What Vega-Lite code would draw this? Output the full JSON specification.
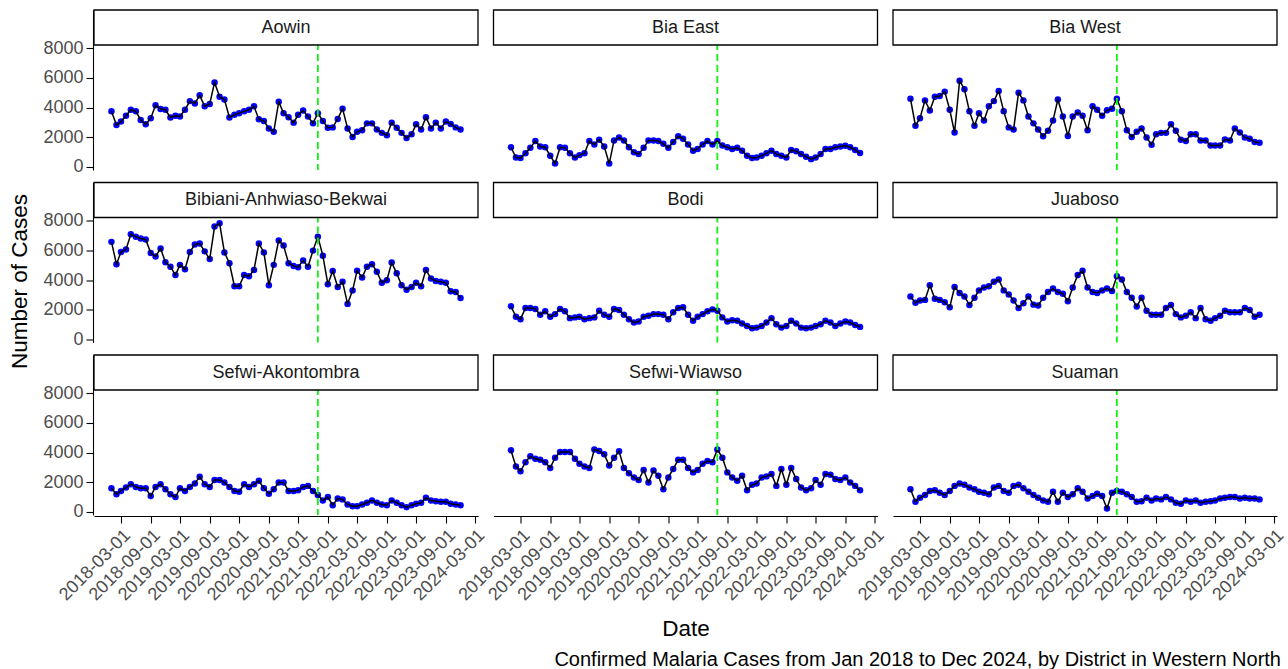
{
"$schema": "https://vega.github.io/schema/vega-lite/v6.json",
"background": "white",
"padding": {"left": 8, "top": 8, "right": 5, "bottom": 2},
"config": {
  "view": {"stroke": null},
  "font": "Liberation Sans",
  "axis": {"domainColor": "black", "tickColor": "black", "domainWidth": 1.1, "tickWidth": 1.1, "labelColor": "#4d4d4d", "labelFontSize": 18, "tickSize": 7, "labelPadding": 3, "grid": false, "labelFont": "Liberation Sans"},
  "axisX": {"labelAngle": -45, "labelAlign": "right", "labelBaseline": "top", "labelOverlap": false, "labelFlush": false, "labelExpr": "utcFormat(datum.value, '%Y-%m-%d')"},
  "axisY": {"labelOverlap": false}
},
"title": {"text": "Confirmed Malaria Cases from Jan 2018 to Dec 2024, by District in Western North", "orient": "bottom", "anchor": "end", "fontSize": 20, "fontWeight": "normal", "color": "black", "font": "Liberation Sans", "offset": 9, "dx": -6},
"spacing": 10,
"hconcat": [
{"width": 24, "height": 543,
 "data": {"values": [{"t": "Number of Cases"}]},
 "mark": {"type": "text", "angle": 270, "fontSize": 22.5, "color": "black", "font": "Liberation Sans"},
 "encoding": {"text": {"field": "t"}}},
{
"data": {"values": [
{"d":"Aowin","m":"2018-01-01","c":3750},{"d":"Aowin","m":"2018-02-01","c":2830},{"d":"Aowin","m":"2018-03-01","c":3060},{"d":"Aowin","m":"2018-04-01","c":3450},{"d":"Aowin","m":"2018-05-01","c":3860},{"d":"Aowin","m":"2018-06-01","c":3750},{"d":"Aowin","m":"2018-07-01","c":3170},{"d":"Aowin","m":"2018-08-01","c":2875},{"d":"Aowin","m":"2018-09-01","c":3290},{"d":"Aowin","m":"2018-10-01","c":4160},{"d":"Aowin","m":"2018-11-01","c":3910},{"d":"Aowin","m":"2018-12-01","c":3860},
{"d":"Aowin","m":"2019-01-01","c":3335},{"d":"Aowin","m":"2019-02-01","c":3450},{"d":"Aowin","m":"2019-03-01","c":3400},{"d":"Aowin","m":"2019-04-01","c":3860},{"d":"Aowin","m":"2019-05-01","c":4440},{"d":"Aowin","m":"2019-06-01","c":4280},{"d":"Aowin","m":"2019-07-01","c":4830},{"d":"Aowin","m":"2019-08-01","c":4090},{"d":"Aowin","m":"2019-09-01","c":4250},{"d":"Aowin","m":"2019-10-01","c":5700},{"d":"Aowin","m":"2019-11-01","c":4740},{"d":"Aowin","m":"2019-12-01","c":4550},
{"d":"Aowin","m":"2020-01-01","c":3335},{"d":"Aowin","m":"2020-02-01","c":3520},{"d":"Aowin","m":"2020-03-01","c":3630},{"d":"Aowin","m":"2020-04-01","c":3750},{"d":"Aowin","m":"2020-05-01","c":3860},{"d":"Aowin","m":"2020-06-01","c":4090},{"d":"Aowin","m":"2020-07-01","c":3220},{"d":"Aowin","m":"2020-08-01","c":3100},{"d":"Aowin","m":"2020-09-01","c":2600},{"d":"Aowin","m":"2020-10-01","c":2370},{"d":"Aowin","m":"2020-11-01","c":4390},{"d":"Aowin","m":"2020-12-01","c":3630},
{"d":"Aowin","m":"2021-01-01","c":3360},{"d":"Aowin","m":"2021-02-01","c":2990},{"d":"Aowin","m":"2021-03-01","c":3520},{"d":"Aowin","m":"2021-04-01","c":3800},{"d":"Aowin","m":"2021-05-01","c":3400},{"d":"Aowin","m":"2021-06-01","c":2940},{"d":"Aowin","m":"2021-07-01","c":3630},{"d":"Aowin","m":"2021-08-01","c":3100},{"d":"Aowin","m":"2021-09-01","c":2645},{"d":"Aowin","m":"2021-10-01","c":2670},{"d":"Aowin","m":"2021-11-01","c":3240},{"d":"Aowin","m":"2021-12-01","c":3930},
{"d":"Aowin","m":"2022-01-01","c":2600},{"d":"Aowin","m":"2022-02-01","c":2020},{"d":"Aowin","m":"2022-03-01","c":2370},{"d":"Aowin","m":"2022-04-01","c":2480},{"d":"Aowin","m":"2022-05-01","c":2940},{"d":"Aowin","m":"2022-06-01","c":2940},{"d":"Aowin","m":"2022-07-01","c":2530},{"d":"Aowin","m":"2022-08-01","c":2300},{"d":"Aowin","m":"2022-09-01","c":2140},{"d":"Aowin","m":"2022-10-01","c":2990},{"d":"Aowin","m":"2022-11-01","c":2645},{"d":"Aowin","m":"2022-12-01","c":2300},
{"d":"Aowin","m":"2023-01-01","c":1955},{"d":"Aowin","m":"2023-02-01","c":2210},{"d":"Aowin","m":"2023-03-01","c":2875},{"d":"Aowin","m":"2023-04-01","c":2530},{"d":"Aowin","m":"2023-05-01","c":3360},{"d":"Aowin","m":"2023-06-01","c":2600},{"d":"Aowin","m":"2023-07-01","c":2990},{"d":"Aowin","m":"2023-08-01","c":2600},{"d":"Aowin","m":"2023-09-01","c":3060},{"d":"Aowin","m":"2023-10-01","c":2900},{"d":"Aowin","m":"2023-11-01","c":2670},{"d":"Aowin","m":"2023-12-01","c":2530},
{"d":"Bia East","m":"2018-01-01","c":1330},{"d":"Bia East","m":"2018-02-01","c":640},{"d":"Bia East","m":"2018-03-01","c":600},{"d":"Bia East","m":"2018-04-01","c":920},{"d":"Bia East","m":"2018-05-01","c":1290},{"d":"Bia East","m":"2018-06-01","c":1750},{"d":"Bia East","m":"2018-07-01","c":1380},{"d":"Bia East","m":"2018-08-01","c":1330},{"d":"Bia East","m":"2018-09-01","c":760},{"d":"Bia East","m":"2018-10-01","c":230},{"d":"Bia East","m":"2018-11-01","c":1330},{"d":"Bia East","m":"2018-12-01","c":1290},
{"d":"Bia East","m":"2019-01-01","c":920},{"d":"Bia East","m":"2019-02-01","c":640},{"d":"Bia East","m":"2019-03-01","c":800},{"d":"Bia East","m":"2019-04-01","c":920},{"d":"Bia East","m":"2019-05-01","c":1750},{"d":"Bia East","m":"2019-06-01","c":1520},{"d":"Bia East","m":"2019-07-01","c":1840},{"d":"Bia East","m":"2019-08-01","c":1380},{"d":"Bia East","m":"2019-09-01","c":230},{"d":"Bia East","m":"2019-10-01","c":1790},{"d":"Bia East","m":"2019-11-01","c":1980},{"d":"Bia East","m":"2019-12-01","c":1790},
{"d":"Bia East","m":"2020-01-01","c":1330},{"d":"Bia East","m":"2020-02-01","c":990},{"d":"Bia East","m":"2020-03-01","c":870},{"d":"Bia East","m":"2020-04-01","c":1290},{"d":"Bia East","m":"2020-05-01","c":1790},{"d":"Bia East","m":"2020-06-01","c":1790},{"d":"Bia East","m":"2020-07-01","c":1750},{"d":"Bia East","m":"2020-08-01","c":1560},{"d":"Bia East","m":"2020-09-01","c":1290},{"d":"Bia East","m":"2020-10-01","c":1680},{"d":"Bia East","m":"2020-11-01","c":2070},{"d":"Bia East","m":"2020-12-01","c":1910},
{"d":"Bia East","m":"2021-01-01","c":1520},{"d":"Bia East","m":"2021-02-01","c":1100},{"d":"Bia East","m":"2021-03-01","c":1220},{"d":"Bia East","m":"2021-04-01","c":1520},{"d":"Bia East","m":"2021-05-01","c":1750},{"d":"Bia East","m":"2021-06-01","c":1520},{"d":"Bia East","m":"2021-07-01","c":1750},{"d":"Bia East","m":"2021-08-01","c":1450},{"d":"Bia East","m":"2021-09-01","c":1330},{"d":"Bia East","m":"2021-10-01","c":1220},{"d":"Bia East","m":"2021-11-01","c":1290},{"d":"Bia East","m":"2021-12-01","c":1100},
{"d":"Bia East","m":"2022-01-01","c":760},{"d":"Bia East","m":"2022-02-01","c":600},{"d":"Bia East","m":"2022-03-01","c":640},{"d":"Bia East","m":"2022-04-01","c":760},{"d":"Bia East","m":"2022-05-01","c":920},{"d":"Bia East","m":"2022-06-01","c":1100},{"d":"Bia East","m":"2022-07-01","c":870},{"d":"Bia East","m":"2022-08-01","c":760},{"d":"Bia East","m":"2022-09-01","c":640},{"d":"Bia East","m":"2022-10-01","c":1150},{"d":"Bia East","m":"2022-11-01","c":1060},{"d":"Bia East","m":"2022-12-01","c":870},
{"d":"Bia East","m":"2023-01-01","c":690},{"d":"Bia East","m":"2023-02-01","c":530},{"d":"Bia East","m":"2023-03-01","c":640},{"d":"Bia East","m":"2023-04-01","c":870},{"d":"Bia East","m":"2023-05-01","c":1220},{"d":"Bia East","m":"2023-06-01","c":1220},{"d":"Bia East","m":"2023-07-01","c":1330},{"d":"Bia East","m":"2023-08-01","c":1380},{"d":"Bia East","m":"2023-09-01","c":1430},{"d":"Bia East","m":"2023-10-01","c":1330},{"d":"Bia East","m":"2023-11-01","c":1150},{"d":"Bia East","m":"2023-12-01","c":940},
{"d":"Bia West","m":"2018-01-01","c":4600},{"d":"Bia West","m":"2018-02-01","c":2780},{"d":"Bia West","m":"2018-03-01","c":3290},{"d":"Bia West","m":"2018-04-01","c":4490},{"d":"Bia West","m":"2018-05-01","c":3800},{"d":"Bia West","m":"2018-06-01","c":4740},{"d":"Bia West","m":"2018-07-01","c":4780},{"d":"Bia West","m":"2018-08-01","c":5080},{"d":"Bia West","m":"2018-09-01","c":3860},{"d":"Bia West","m":"2018-10-01","c":2320},{"d":"Bia West","m":"2018-11-01","c":5820},{"d":"Bia West","m":"2018-12-01","c":5240},
{"d":"Bia West","m":"2019-01-01","c":3750},{"d":"Bia West","m":"2019-02-01","c":2780},{"d":"Bia West","m":"2019-03-01","c":3630},{"d":"Bia West","m":"2019-04-01","c":3130},{"d":"Bia West","m":"2019-05-01","c":4090},{"d":"Bia West","m":"2019-06-01","c":4440},{"d":"Bia West","m":"2019-07-01","c":5130},{"d":"Bia West","m":"2019-08-01","c":3750},{"d":"Bia West","m":"2019-09-01","c":2670},{"d":"Bia West","m":"2019-10-01","c":2530},{"d":"Bia West","m":"2019-11-01","c":5010},{"d":"Bia West","m":"2019-12-01","c":4490},
{"d":"Bia West","m":"2020-01-01","c":3400},{"d":"Bia West","m":"2020-02-01","c":2940},{"d":"Bia West","m":"2020-03-01","c":2530},{"d":"Bia West","m":"2020-04-01","c":2070},{"d":"Bia West","m":"2020-05-01","c":2440},{"d":"Bia West","m":"2020-06-01","c":3130},{"d":"Bia West","m":"2020-07-01","c":4550},{"d":"Bia West","m":"2020-08-01","c":3400},{"d":"Bia West","m":"2020-09-01","c":2090},{"d":"Bia West","m":"2020-10-01","c":3400},{"d":"Bia West","m":"2020-11-01","c":3680},{"d":"Bia West","m":"2020-12-01","c":3450},
{"d":"Bia West","m":"2021-01-01","c":2480},{"d":"Bia West","m":"2021-02-01","c":4090},{"d":"Bia West","m":"2021-03-01","c":3860},{"d":"Bia West","m":"2021-04-01","c":3450},{"d":"Bia West","m":"2021-05-01","c":3820},{"d":"Bia West","m":"2021-06-01","c":3930},{"d":"Bia West","m":"2021-07-01","c":4600},{"d":"Bia West","m":"2021-08-01","c":3750},{"d":"Bia West","m":"2021-09-01","c":2480},{"d":"Bia West","m":"2021-10-01","c":2020},{"d":"Bia West","m":"2021-11-01","c":2370},{"d":"Bia West","m":"2021-12-01","c":2600},
{"d":"Bia West","m":"2022-01-01","c":1980},{"d":"Bia West","m":"2022-02-01","c":1500},{"d":"Bia West","m":"2022-03-01","c":2210},{"d":"Bia West","m":"2022-04-01","c":2300},{"d":"Bia West","m":"2022-05-01","c":2300},{"d":"Bia West","m":"2022-06-01","c":2875},{"d":"Bia West","m":"2022-07-01","c":2440},{"d":"Bia West","m":"2022-08-01","c":1840},{"d":"Bia West","m":"2022-09-01","c":1750},{"d":"Bia West","m":"2022-10-01","c":2210},{"d":"Bia West","m":"2022-11-01","c":2210},{"d":"Bia West","m":"2022-12-01","c":1790},
{"d":"Bia West","m":"2023-01-01","c":1790},{"d":"Bia West","m":"2023-02-01","c":1450},{"d":"Bia West","m":"2023-03-01","c":1450},{"d":"Bia West","m":"2023-04-01","c":1450},{"d":"Bia West","m":"2023-05-01","c":1860},{"d":"Bia West","m":"2023-06-01","c":1790},{"d":"Bia West","m":"2023-07-01","c":2600},{"d":"Bia West","m":"2023-08-01","c":2320},{"d":"Bia West","m":"2023-09-01","c":1980},{"d":"Bia West","m":"2023-10-01","c":1910},{"d":"Bia West","m":"2023-11-01","c":1680},{"d":"Bia West","m":"2023-12-01","c":1630},
{"d":"Bibiani-Anhwiaso-Bekwai","m":"2018-01-01","c":6580},{"d":"Bibiani-Anhwiaso-Bekwai","m":"2018-02-01","c":5075},{"d":"Bibiani-Anhwiaso-Bekwai","m":"2018-03-01","c":5900},{"d":"Bibiani-Anhwiaso-Bekwai","m":"2018-04-01","c":6060},{"d":"Bibiani-Anhwiaso-Bekwai","m":"2018-05-01","c":7090},{"d":"Bibiani-Anhwiaso-Bekwai","m":"2018-06-01","c":6930},{"d":"Bibiani-Anhwiaso-Bekwai","m":"2018-07-01","c":6810},{"d":"Bibiani-Anhwiaso-Bekwai","m":"2018-08-01","c":6740},{"d":"Bibiani-Anhwiaso-Bekwai","m":"2018-09-01","c":5830},{"d":"Bibiani-Anhwiaso-Bekwai","m":"2018-10-01","c":5600},{"d":"Bibiani-Anhwiaso-Bekwai","m":"2018-11-01","c":6130},{"d":"Bibiani-Anhwiaso-Bekwai","m":"2018-12-01","c":5210},
{"d":"Bibiani-Anhwiaso-Bekwai","m":"2019-01-01","c":4910},{"d":"Bibiani-Anhwiaso-Bekwai","m":"2019-02-01","c":4340},{"d":"Bibiani-Anhwiaso-Bekwai","m":"2019-03-01","c":5030},{"d":"Bibiani-Anhwiaso-Bekwai","m":"2019-04-01","c":4730},{"d":"Bibiani-Anhwiaso-Bekwai","m":"2019-05-01","c":5900},{"d":"Bibiani-Anhwiaso-Bekwai","m":"2019-06-01","c":6400},{"d":"Bibiani-Anhwiaso-Bekwai","m":"2019-07-01","c":6470},{"d":"Bibiani-Anhwiaso-Bekwai","m":"2019-08-01","c":5940},{"d":"Bibiani-Anhwiaso-Bekwai","m":"2019-09-01","c":5420},{"d":"Bibiani-Anhwiaso-Bekwai","m":"2019-10-01","c":7610},{"d":"Bibiani-Anhwiaso-Bekwai","m":"2019-11-01","c":7840},{"d":"Bibiani-Anhwiaso-Bekwai","m":"2019-12-01","c":5870},
{"d":"Bibiani-Anhwiaso-Bekwai","m":"2020-01-01","c":5140},{"d":"Bibiani-Anhwiaso-Bekwai","m":"2020-02-01","c":3590},{"d":"Bibiani-Anhwiaso-Bekwai","m":"2020-03-01","c":3590},{"d":"Bibiani-Anhwiaso-Bekwai","m":"2020-04-01","c":4340},{"d":"Bibiani-Anhwiaso-Bekwai","m":"2020-05-01","c":4270},{"d":"Bibiani-Anhwiaso-Bekwai","m":"2020-06-01","c":4690},{"d":"Bibiani-Anhwiaso-Bekwai","m":"2020-07-01","c":6470},{"d":"Bibiani-Anhwiaso-Bekwai","m":"2020-08-01","c":5870},{"d":"Bibiani-Anhwiaso-Bekwai","m":"2020-09-01","c":3660},{"d":"Bibiani-Anhwiaso-Bekwai","m":"2020-10-01","c":5030},{"d":"Bibiani-Anhwiaso-Bekwai","m":"2020-11-01","c":6680},{"d":"Bibiani-Anhwiaso-Bekwai","m":"2020-12-01","c":6330},
{"d":"Bibiani-Anhwiaso-Bekwai","m":"2021-01-01","c":5140},{"d":"Bibiani-Anhwiaso-Bekwai","m":"2021-02-01","c":4960},{"d":"Bibiani-Anhwiaso-Bekwai","m":"2021-03-01","c":4870},{"d":"Bibiani-Anhwiaso-Bekwai","m":"2021-04-01","c":5330},{"d":"Bibiani-Anhwiaso-Bekwai","m":"2021-05-01","c":4910},{"d":"Bibiani-Anhwiaso-Bekwai","m":"2021-06-01","c":5990},{"d":"Bibiani-Anhwiaso-Bekwai","m":"2021-07-01","c":6930},{"d":"Bibiani-Anhwiaso-Bekwai","m":"2021-08-01","c":5650},{"d":"Bibiani-Anhwiaso-Bekwai","m":"2021-09-01","c":3730},{"d":"Bibiani-Anhwiaso-Bekwai","m":"2021-10-01","c":4620},{"d":"Bibiani-Anhwiaso-Bekwai","m":"2021-11-01","c":3540},{"d":"Bibiani-Anhwiaso-Bekwai","m":"2021-12-01","c":3890},
{"d":"Bibiani-Anhwiaso-Bekwai","m":"2022-01-01","c":2400},{"d":"Bibiani-Anhwiaso-Bekwai","m":"2022-02-01","c":3310},{"d":"Bibiani-Anhwiaso-Bekwai","m":"2022-03-01","c":4640},{"d":"Bibiani-Anhwiaso-Bekwai","m":"2022-04-01","c":4180},{"d":"Bibiani-Anhwiaso-Bekwai","m":"2022-05-01","c":4910},{"d":"Bibiani-Anhwiaso-Bekwai","m":"2022-06-01","c":5075},{"d":"Bibiani-Anhwiaso-Bekwai","m":"2022-07-01","c":4570},{"d":"Bibiani-Anhwiaso-Bekwai","m":"2022-08-01","c":3820},{"d":"Bibiani-Anhwiaso-Bekwai","m":"2022-09-01","c":4000},{"d":"Bibiani-Anhwiaso-Bekwai","m":"2022-10-01","c":5190},{"d":"Bibiani-Anhwiaso-Bekwai","m":"2022-11-01","c":4460},{"d":"Bibiani-Anhwiaso-Bekwai","m":"2022-12-01","c":3660},
{"d":"Bibiani-Anhwiaso-Bekwai","m":"2023-01-01","c":3360},{"d":"Bibiani-Anhwiaso-Bekwai","m":"2023-02-01","c":3540},{"d":"Bibiani-Anhwiaso-Bekwai","m":"2023-03-01","c":3820},{"d":"Bibiani-Anhwiaso-Bekwai","m":"2023-04-01","c":3590},{"d":"Bibiani-Anhwiaso-Bekwai","m":"2023-05-01","c":4690},{"d":"Bibiani-Anhwiaso-Bekwai","m":"2023-06-01","c":4110},{"d":"Bibiani-Anhwiaso-Bekwai","m":"2023-07-01","c":3950},{"d":"Bibiani-Anhwiaso-Bekwai","m":"2023-08-01","c":3890},{"d":"Bibiani-Anhwiaso-Bekwai","m":"2023-09-01","c":3820},{"d":"Bibiani-Anhwiaso-Bekwai","m":"2023-10-01","c":3250},{"d":"Bibiani-Anhwiaso-Bekwai","m":"2023-11-01","c":3200},{"d":"Bibiani-Anhwiaso-Bekwai","m":"2023-12-01","c":2790},
{"d":"Bodi","m":"2018-01-01","c":2240},{"d":"Bodi","m":"2018-02-01","c":1530},{"d":"Bodi","m":"2018-03-01","c":1370},{"d":"Bodi","m":"2018-04-01","c":2130},{"d":"Bodi","m":"2018-05-01","c":2130},{"d":"Bodi","m":"2018-06-01","c":2060},{"d":"Bodi","m":"2018-07-01","c":1670},{"d":"Bodi","m":"2018-08-01","c":1900},{"d":"Bodi","m":"2018-09-01","c":1530},{"d":"Bodi","m":"2018-10-01","c":1710},{"d":"Bodi","m":"2018-11-01","c":2060},{"d":"Bodi","m":"2018-12-01","c":1900},
{"d":"Bodi","m":"2019-01-01","c":1440},{"d":"Bodi","m":"2019-02-01","c":1490},{"d":"Bodi","m":"2019-03-01","c":1530},{"d":"Bodi","m":"2019-04-01","c":1370},{"d":"Bodi","m":"2019-05-01","c":1440},{"d":"Bodi","m":"2019-06-01","c":1490},{"d":"Bodi","m":"2019-07-01","c":1940},{"d":"Bodi","m":"2019-08-01","c":1670},{"d":"Bodi","m":"2019-09-01","c":1530},{"d":"Bodi","m":"2019-10-01","c":2060},{"d":"Bodi","m":"2019-11-01","c":1990},{"d":"Bodi","m":"2019-12-01","c":1670},
{"d":"Bodi","m":"2020-01-01","c":1370},{"d":"Bodi","m":"2020-02-01","c":1140},{"d":"Bodi","m":"2020-03-01","c":1210},{"d":"Bodi","m":"2020-04-01","c":1530},{"d":"Bodi","m":"2020-05-01","c":1600},{"d":"Bodi","m":"2020-06-01","c":1710},{"d":"Bodi","m":"2020-07-01","c":1710},{"d":"Bodi","m":"2020-08-01","c":1670},{"d":"Bodi","m":"2020-09-01","c":1370},{"d":"Bodi","m":"2020-10-01","c":1830},{"d":"Bodi","m":"2020-11-01","c":2130},{"d":"Bodi","m":"2020-12-01","c":2170},
{"d":"Bodi","m":"2021-01-01","c":1670},{"d":"Bodi","m":"2021-02-01","c":1260},{"d":"Bodi","m":"2021-03-01","c":1530},{"d":"Bodi","m":"2021-04-01","c":1710},{"d":"Bodi","m":"2021-05-01","c":1900},{"d":"Bodi","m":"2021-06-01","c":2030},{"d":"Bodi","m":"2021-07-01","c":1940},{"d":"Bodi","m":"2021-08-01","c":1490},{"d":"Bodi","m":"2021-09-01","c":1210},{"d":"Bodi","m":"2021-10-01","c":1300},{"d":"Bodi","m":"2021-11-01","c":1260},{"d":"Bodi","m":"2021-12-01","c":1070},
{"d":"Bodi","m":"2022-01-01","c":910},{"d":"Bodi","m":"2022-02-01","c":750},{"d":"Bodi","m":"2022-03-01","c":800},{"d":"Bodi","m":"2022-04-01","c":910},{"d":"Bodi","m":"2022-05-01","c":1140},{"d":"Bodi","m":"2022-06-01","c":1440},{"d":"Bodi","m":"2022-07-01","c":1030},{"d":"Bodi","m":"2022-08-01","c":800},{"d":"Bodi","m":"2022-09-01","c":910},{"d":"Bodi","m":"2022-10-01","c":1260},{"d":"Bodi","m":"2022-11-01","c":1070},{"d":"Bodi","m":"2022-12-01","c":800},
{"d":"Bodi","m":"2023-01-01","c":750},{"d":"Bodi","m":"2023-02-01","c":800},{"d":"Bodi","m":"2023-03-01","c":910},{"d":"Bodi","m":"2023-04-01","c":1030},{"d":"Bodi","m":"2023-05-01","c":1260},{"d":"Bodi","m":"2023-06-01","c":1140},{"d":"Bodi","m":"2023-07-01","c":910},{"d":"Bodi","m":"2023-08-01","c":1070},{"d":"Bodi","m":"2023-09-01","c":1210},{"d":"Bodi","m":"2023-10-01","c":1140},{"d":"Bodi","m":"2023-11-01","c":980},{"d":"Bodi","m":"2023-12-01","c":850},
{"d":"Juaboso","m":"2018-01-01","c":2900},{"d":"Juaboso","m":"2018-02-01","c":2470},{"d":"Juaboso","m":"2018-03-01","c":2630},{"d":"Juaboso","m":"2018-04-01","c":2670},{"d":"Juaboso","m":"2018-05-01","c":3660},{"d":"Juaboso","m":"2018-06-01","c":2740},{"d":"Juaboso","m":"2018-07-01","c":2670},{"d":"Juaboso","m":"2018-08-01","c":2510},{"d":"Juaboso","m":"2018-09-01","c":2170},{"d":"Juaboso","m":"2018-10-01","c":3540},{"d":"Juaboso","m":"2018-11-01","c":3130},{"d":"Juaboso","m":"2018-12-01","c":2900},
{"d":"Juaboso","m":"2019-01-01","c":2330},{"d":"Juaboso","m":"2019-02-01","c":2810},{"d":"Juaboso","m":"2019-03-01","c":3310},{"d":"Juaboso","m":"2019-04-01","c":3500},{"d":"Juaboso","m":"2019-05-01","c":3590},{"d":"Juaboso","m":"2019-06-01","c":3890},{"d":"Juaboso","m":"2019-07-01","c":4050},{"d":"Juaboso","m":"2019-08-01","c":3310},{"d":"Juaboso","m":"2019-09-01","c":3040},{"d":"Juaboso","m":"2019-10-01","c":2630},{"d":"Juaboso","m":"2019-11-01","c":2130},{"d":"Juaboso","m":"2019-12-01","c":2450},
{"d":"Juaboso","m":"2020-01-01","c":2900},{"d":"Juaboso","m":"2020-02-01","c":2350},{"d":"Juaboso","m":"2020-03-01","c":2290},{"d":"Juaboso","m":"2020-04-01","c":2810},{"d":"Juaboso","m":"2020-05-01","c":3200},{"d":"Juaboso","m":"2020-06-01","c":3430},{"d":"Juaboso","m":"2020-07-01","c":3200},{"d":"Juaboso","m":"2020-08-01","c":3090},{"d":"Juaboso","m":"2020-09-01","c":2580},{"d":"Juaboso","m":"2020-10-01","c":3500},{"d":"Juaboso","m":"2020-11-01","c":4340},{"d":"Juaboso","m":"2020-12-01","c":4640},
{"d":"Juaboso","m":"2021-01-01","c":3500},{"d":"Juaboso","m":"2021-02-01","c":3200},{"d":"Juaboso","m":"2021-03-01","c":3130},{"d":"Juaboso","m":"2021-04-01","c":3310},{"d":"Juaboso","m":"2021-05-01","c":3430},{"d":"Juaboso","m":"2021-06-01","c":3270},{"d":"Juaboso","m":"2021-07-01","c":4270},{"d":"Juaboso","m":"2021-08-01","c":4050},{"d":"Juaboso","m":"2021-09-01","c":3200},{"d":"Juaboso","m":"2021-10-01","c":2810},{"d":"Juaboso","m":"2021-11-01","c":2220},{"d":"Juaboso","m":"2021-12-01","c":2810},
{"d":"Juaboso","m":"2022-01-01","c":1940},{"d":"Juaboso","m":"2022-02-01","c":1670},{"d":"Juaboso","m":"2022-03-01","c":1670},{"d":"Juaboso","m":"2022-04-01","c":1670},{"d":"Juaboso","m":"2022-05-01","c":2130},{"d":"Juaboso","m":"2022-06-01","c":2330},{"d":"Juaboso","m":"2022-07-01","c":1710},{"d":"Juaboso","m":"2022-08-01","c":1490},{"d":"Juaboso","m":"2022-09-01","c":1600},{"d":"Juaboso","m":"2022-10-01","c":1830},{"d":"Juaboso","m":"2022-11-01","c":1440},{"d":"Juaboso","m":"2022-12-01","c":2130},
{"d":"Juaboso","m":"2023-01-01","c":1370},{"d":"Juaboso","m":"2023-02-01","c":1260},{"d":"Juaboso","m":"2023-03-01","c":1440},{"d":"Juaboso","m":"2023-04-01","c":1600},{"d":"Juaboso","m":"2023-05-01","c":1940},{"d":"Juaboso","m":"2023-06-01","c":1830},{"d":"Juaboso","m":"2023-07-01","c":1830},{"d":"Juaboso","m":"2023-08-01","c":1830},{"d":"Juaboso","m":"2023-09-01","c":2130},{"d":"Juaboso","m":"2023-10-01","c":1990},{"d":"Juaboso","m":"2023-11-01","c":1530},{"d":"Juaboso","m":"2023-12-01","c":1670},
{"d":"Sefwi-Akontombra","m":"2018-01-01","c":1600},{"d":"Sefwi-Akontombra","m":"2018-02-01","c":1190},{"d":"Sefwi-Akontombra","m":"2018-03-01","c":1420},{"d":"Sefwi-Akontombra","m":"2018-04-01","c":1650},{"d":"Sefwi-Akontombra","m":"2018-05-01","c":1870},{"d":"Sefwi-Akontombra","m":"2018-06-01","c":1690},{"d":"Sefwi-Akontombra","m":"2018-07-01","c":1600},{"d":"Sefwi-Akontombra","m":"2018-08-01","c":1600},{"d":"Sefwi-Akontombra","m":"2018-09-01","c":1070},{"d":"Sefwi-Akontombra","m":"2018-10-01","c":1690},{"d":"Sefwi-Akontombra","m":"2018-11-01","c":1870},{"d":"Sefwi-Akontombra","m":"2018-12-01","c":1530},
{"d":"Sefwi-Akontombra","m":"2019-01-01","c":1190},{"d":"Sefwi-Akontombra","m":"2019-02-01","c":1010},{"d":"Sefwi-Akontombra","m":"2019-03-01","c":1600},{"d":"Sefwi-Akontombra","m":"2019-04-01","c":1420},{"d":"Sefwi-Akontombra","m":"2019-05-01","c":1690},{"d":"Sefwi-Akontombra","m":"2019-06-01","c":1920},{"d":"Sefwi-Akontombra","m":"2019-07-01","c":2380},{"d":"Sefwi-Akontombra","m":"2019-08-01","c":1870},{"d":"Sefwi-Akontombra","m":"2019-09-01","c":1690},{"d":"Sefwi-Akontombra","m":"2019-10-01","c":2150},{"d":"Sefwi-Akontombra","m":"2019-11-01","c":2150},{"d":"Sefwi-Akontombra","m":"2019-12-01","c":1990},
{"d":"Sefwi-Akontombra","m":"2020-01-01","c":1690},{"d":"Sefwi-Akontombra","m":"2020-02-01","c":1420},{"d":"Sefwi-Akontombra","m":"2020-03-01","c":1370},{"d":"Sefwi-Akontombra","m":"2020-04-01","c":1870},{"d":"Sefwi-Akontombra","m":"2020-05-01","c":1690},{"d":"Sefwi-Akontombra","m":"2020-06-01","c":1870},{"d":"Sefwi-Akontombra","m":"2020-07-01","c":2100},{"d":"Sefwi-Akontombra","m":"2020-08-01","c":1600},{"d":"Sefwi-Akontombra","m":"2020-09-01","c":1230},{"d":"Sefwi-Akontombra","m":"2020-10-01","c":1530},{"d":"Sefwi-Akontombra","m":"2020-11-01","c":1990},{"d":"Sefwi-Akontombra","m":"2020-12-01","c":1990},
{"d":"Sefwi-Akontombra","m":"2021-01-01","c":1420},{"d":"Sefwi-Akontombra","m":"2021-02-01","c":1420},{"d":"Sefwi-Akontombra","m":"2021-03-01","c":1460},{"d":"Sefwi-Akontombra","m":"2021-04-01","c":1690},{"d":"Sefwi-Akontombra","m":"2021-05-01","c":1760},{"d":"Sefwi-Akontombra","m":"2021-06-01","c":1420},{"d":"Sefwi-Akontombra","m":"2021-07-01","c":1140},{"d":"Sefwi-Akontombra","m":"2021-08-01","c":780},{"d":"Sefwi-Akontombra","m":"2021-09-01","c":1010},{"d":"Sefwi-Akontombra","m":"2021-10-01","c":460},{"d":"Sefwi-Akontombra","m":"2021-11-01","c":910},{"d":"Sefwi-Akontombra","m":"2021-12-01","c":850},
{"d":"Sefwi-Akontombra","m":"2022-01-01","c":500},{"d":"Sefwi-Akontombra","m":"2022-02-01","c":390},{"d":"Sefwi-Akontombra","m":"2022-03-01","c":390},{"d":"Sefwi-Akontombra","m":"2022-04-01","c":500},{"d":"Sefwi-Akontombra","m":"2022-05-01","c":620},{"d":"Sefwi-Akontombra","m":"2022-06-01","c":780},{"d":"Sefwi-Akontombra","m":"2022-07-01","c":620},{"d":"Sefwi-Akontombra","m":"2022-08-01","c":500},{"d":"Sefwi-Akontombra","m":"2022-09-01","c":460},{"d":"Sefwi-Akontombra","m":"2022-10-01","c":780},{"d":"Sefwi-Akontombra","m":"2022-11-01","c":620},{"d":"Sefwi-Akontombra","m":"2022-12-01","c":460},
{"d":"Sefwi-Akontombra","m":"2023-01-01","c":320},{"d":"Sefwi-Akontombra","m":"2023-02-01","c":460},{"d":"Sefwi-Akontombra","m":"2023-03-01","c":550},{"d":"Sefwi-Akontombra","m":"2023-04-01","c":620},{"d":"Sefwi-Akontombra","m":"2023-05-01","c":960},{"d":"Sefwi-Akontombra","m":"2023-06-01","c":780},{"d":"Sefwi-Akontombra","m":"2023-07-01","c":730},{"d":"Sefwi-Akontombra","m":"2023-08-01","c":690},{"d":"Sefwi-Akontombra","m":"2023-09-01","c":690},{"d":"Sefwi-Akontombra","m":"2023-10-01","c":550},{"d":"Sefwi-Akontombra","m":"2023-11-01","c":500},{"d":"Sefwi-Akontombra","m":"2023-12-01","c":460},
{"d":"Sefwi-Wiawso","m":"2018-01-01","c":4160},{"d":"Sefwi-Wiawso","m":"2018-02-01","c":3060},{"d":"Sefwi-Wiawso","m":"2018-03-01","c":2740},{"d":"Sefwi-Wiawso","m":"2018-04-01","c":3360},{"d":"Sefwi-Wiawso","m":"2018-05-01","c":3750},{"d":"Sefwi-Wiawso","m":"2018-06-01","c":3590},{"d":"Sefwi-Wiawso","m":"2018-07-01","c":3520},{"d":"Sefwi-Wiawso","m":"2018-08-01","c":3360},{"d":"Sefwi-Wiawso","m":"2018-09-01","c":2970},{"d":"Sefwi-Wiawso","m":"2018-10-01","c":3660},{"d":"Sefwi-Wiawso","m":"2018-11-01","c":4050},{"d":"Sefwi-Wiawso","m":"2018-12-01","c":4050},
{"d":"Sefwi-Wiawso","m":"2019-01-01","c":4050},{"d":"Sefwi-Wiawso","m":"2019-02-01","c":3590},{"d":"Sefwi-Wiawso","m":"2019-03-01","c":3250},{"d":"Sefwi-Wiawso","m":"2019-04-01","c":3060},{"d":"Sefwi-Wiawso","m":"2019-05-01","c":2970},{"d":"Sefwi-Wiawso","m":"2019-06-01","c":4210},{"d":"Sefwi-Wiawso","m":"2019-07-01","c":4110},{"d":"Sefwi-Wiawso","m":"2019-08-01","c":3890},{"d":"Sefwi-Wiawso","m":"2019-09-01","c":3130},{"d":"Sefwi-Wiawso","m":"2019-10-01","c":3660},{"d":"Sefwi-Wiawso","m":"2019-11-01","c":4090},{"d":"Sefwi-Wiawso","m":"2019-12-01","c":2970},
{"d":"Sefwi-Wiawso","m":"2020-01-01","c":2610},{"d":"Sefwi-Wiawso","m":"2020-02-01","c":2330},{"d":"Sefwi-Wiawso","m":"2020-03-01","c":2150},{"d":"Sefwi-Wiawso","m":"2020-04-01","c":2830},{"d":"Sefwi-Wiawso","m":"2020-05-01","c":1990},{"d":"Sefwi-Wiawso","m":"2020-06-01","c":2790},{"d":"Sefwi-Wiawso","m":"2020-07-01","c":2450},{"d":"Sefwi-Wiawso","m":"2020-08-01","c":1530},{"d":"Sefwi-Wiawso","m":"2020-09-01","c":2330},{"d":"Sefwi-Wiawso","m":"2020-10-01","c":2900},{"d":"Sefwi-Wiawso","m":"2020-11-01","c":3520},{"d":"Sefwi-Wiawso","m":"2020-12-01","c":3520},
{"d":"Sefwi-Wiawso","m":"2021-01-01","c":2970},{"d":"Sefwi-Wiawso","m":"2021-02-01","c":2670},{"d":"Sefwi-Wiawso","m":"2021-03-01","c":2830},{"d":"Sefwi-Wiawso","m":"2021-04-01","c":3250},{"d":"Sefwi-Wiawso","m":"2021-05-01","c":3430},{"d":"Sefwi-Wiawso","m":"2021-06-01","c":3360},{"d":"Sefwi-Wiawso","m":"2021-07-01","c":4210},{"d":"Sefwi-Wiawso","m":"2021-08-01","c":3660},{"d":"Sefwi-Wiawso","m":"2021-09-01","c":2670},{"d":"Sefwi-Wiawso","m":"2021-10-01","c":2330},{"d":"Sefwi-Wiawso","m":"2021-11-01","c":2100},{"d":"Sefwi-Wiawso","m":"2021-12-01","c":2450},
{"d":"Sefwi-Wiawso","m":"2022-01-01","c":1460},{"d":"Sefwi-Wiawso","m":"2022-02-01","c":1830},{"d":"Sefwi-Wiawso","m":"2022-03-01","c":1920},{"d":"Sefwi-Wiawso","m":"2022-04-01","c":2330},{"d":"Sefwi-Wiawso","m":"2022-05-01","c":2400},{"d":"Sefwi-Wiawso","m":"2022-06-01","c":2560},{"d":"Sefwi-Wiawso","m":"2022-07-01","c":1760},{"d":"Sefwi-Wiawso","m":"2022-08-01","c":2900},{"d":"Sefwi-Wiawso","m":"2022-09-01","c":1830},{"d":"Sefwi-Wiawso","m":"2022-10-01","c":2970},{"d":"Sefwi-Wiawso","m":"2022-11-01","c":2220},{"d":"Sefwi-Wiawso","m":"2022-12-01","c":1650},
{"d":"Sefwi-Wiawso","m":"2023-01-01","c":1460},{"d":"Sefwi-Wiawso","m":"2023-02-01","c":1600},{"d":"Sefwi-Wiawso","m":"2023-03-01","c":2150},{"d":"Sefwi-Wiawso","m":"2023-04-01","c":1830},{"d":"Sefwi-Wiawso","m":"2023-05-01","c":2560},{"d":"Sefwi-Wiawso","m":"2023-06-01","c":2510},{"d":"Sefwi-Wiawso","m":"2023-07-01","c":2220},{"d":"Sefwi-Wiawso","m":"2023-08-01","c":2150},{"d":"Sefwi-Wiawso","m":"2023-09-01","c":2330},{"d":"Sefwi-Wiawso","m":"2023-10-01","c":1990},{"d":"Sefwi-Wiawso","m":"2023-11-01","c":1760},{"d":"Sefwi-Wiawso","m":"2023-12-01","c":1460},
{"d":"Suaman","m":"2018-01-01","c":1530},{"d":"Suaman","m":"2018-02-01","c":690},{"d":"Suaman","m":"2018-03-01","c":960},{"d":"Suaman","m":"2018-04-01","c":1140},{"d":"Suaman","m":"2018-05-01","c":1420},{"d":"Suaman","m":"2018-06-01","c":1460},{"d":"Suaman","m":"2018-07-01","c":1300},{"d":"Suaman","m":"2018-08-01","c":1140},{"d":"Suaman","m":"2018-09-01","c":1420},{"d":"Suaman","m":"2018-10-01","c":1760},{"d":"Suaman","m":"2018-11-01","c":1920},{"d":"Suaman","m":"2018-12-01","c":1830},
{"d":"Suaman","m":"2019-01-01","c":1650},{"d":"Suaman","m":"2019-02-01","c":1530},{"d":"Suaman","m":"2019-03-01","c":1370},{"d":"Suaman","m":"2019-04-01","c":1300},{"d":"Suaman","m":"2019-05-01","c":1190},{"d":"Suaman","m":"2019-06-01","c":1650},{"d":"Suaman","m":"2019-07-01","c":1760},{"d":"Suaman","m":"2019-08-01","c":1420},{"d":"Suaman","m":"2019-09-01","c":1300},{"d":"Suaman","m":"2019-10-01","c":1760},{"d":"Suaman","m":"2019-11-01","c":1830},{"d":"Suaman","m":"2019-12-01","c":1600},
{"d":"Suaman","m":"2020-01-01","c":1370},{"d":"Suaman","m":"2020-02-01","c":1140},{"d":"Suaman","m":"2020-03-01","c":960},{"d":"Suaman","m":"2020-04-01","c":780},{"d":"Suaman","m":"2020-05-01","c":690},{"d":"Suaman","m":"2020-06-01","c":1370},{"d":"Suaman","m":"2020-07-01","c":690},{"d":"Suaman","m":"2020-08-01","c":1300},{"d":"Suaman","m":"2020-09-01","c":1010},{"d":"Suaman","m":"2020-10-01","c":1190},{"d":"Suaman","m":"2020-11-01","c":1600},{"d":"Suaman","m":"2020-12-01","c":1370},
{"d":"Suaman","m":"2021-01-01","c":910},{"d":"Suaman","m":"2021-02-01","c":1070},{"d":"Suaman","m":"2021-03-01","c":1230},{"d":"Suaman","m":"2021-04-01","c":1070},{"d":"Suaman","m":"2021-05-01","c":230},{"d":"Suaman","m":"2021-06-01","c":1300},{"d":"Suaman","m":"2021-07-01","c":1420},{"d":"Suaman","m":"2021-08-01","c":1370},{"d":"Suaman","m":"2021-09-01","c":1190},{"d":"Suaman","m":"2021-10-01","c":1010},{"d":"Suaman","m":"2021-11-01","c":690},{"d":"Suaman","m":"2021-12-01","c":730},
{"d":"Suaman","m":"2022-01-01","c":960},{"d":"Suaman","m":"2022-02-01","c":780},{"d":"Suaman","m":"2022-03-01","c":910},{"d":"Suaman","m":"2022-04-01","c":850},{"d":"Suaman","m":"2022-05-01","c":1010},{"d":"Suaman","m":"2022-06-01","c":850},{"d":"Suaman","m":"2022-07-01","c":620},{"d":"Suaman","m":"2022-08-01","c":550},{"d":"Suaman","m":"2022-09-01","c":780},{"d":"Suaman","m":"2022-10-01","c":690},{"d":"Suaman","m":"2022-11-01","c":780},{"d":"Suaman","m":"2022-12-01","c":620},
{"d":"Suaman","m":"2023-01-01","c":690},{"d":"Suaman","m":"2023-02-01","c":730},{"d":"Suaman","m":"2023-03-01","c":780},{"d":"Suaman","m":"2023-04-01","c":910},{"d":"Suaman","m":"2023-05-01","c":960},{"d":"Suaman","m":"2023-06-01","c":1010},{"d":"Suaman","m":"2023-07-01","c":1010},{"d":"Suaman","m":"2023-08-01","c":910},{"d":"Suaman","m":"2023-09-01","c":960},{"d":"Suaman","m":"2023-10-01","c":910},{"d":"Suaman","m":"2023-11-01","c":910},{"d":"Suaman","m":"2023-12-01","c":850}
]},
"facet": {"field": "d", "type": "nominal", "title": "Date", "sort": ["Aowin","Bia East","Bia West","Bibiani-Anhwiaso-Bekwai","Bodi","Juaboso","Sefwi-Akontombra","Sefwi-Wiawso","Suaman"],
  "header": {"labels": false, "labelFontSize": 1, "labelPadding": 0, "labelColor": "transparent", "titleOrient": "bottom", "titleFontSize": 22.5, "titleFontWeight": "normal", "titleColor": "black", "titleFont": "Liberation Sans", "titlePadding": 14}},
"columns": 3,
"spacing": {"row": 9.5, "column": 13.5},
"spec": {
  "width": 384,
  "height": 160,
  "layer": [
    {"mark": {"type": "point", "filled": true, "size": 42, "color": "#0000ff", "opacity": 1},
     "encoding": {
       "x": {"field": "m", "type": "temporal",
             "scale": {"type": "utc", "domain": [{"year": 2017, "month": 9, "date": 15, "utc": true}, {"year": 2024, "month": 3, "date": 18, "utc": true}], "nice": false},
             "axis": {"title": null, "values": [{"year":2018,"month":3,"date":1,"utc":true},{"year":2018,"month":9,"date":1,"utc":true},{"year":2019,"month":3,"date":1,"utc":true},{"year":2019,"month":9,"date":1,"utc":true},{"year":2020,"month":3,"date":1,"utc":true},{"year":2020,"month":9,"date":1,"utc":true},{"year":2021,"month":3,"date":1,"utc":true},{"year":2021,"month":9,"date":1,"utc":true},{"year":2022,"month":3,"date":1,"utc":true},{"year":2022,"month":9,"date":1,"utc":true},{"year":2023,"month":3,"date":1,"utc":true},{"year":2023,"month":9,"date":1,"utc":true},{"year":2024,"month":3,"date":1,"utc":true}]}},
       "y": {"field": "c", "type": "quantitative",
             "scale": {"domain": [-203, 10582], "nice": false, "zero": false},
             "axis": {"title": null, "values": [0, 2000, 4000, 6000, 8000], "format": "d"}}
     }},
    {"mark": {"type": "line", "color": "black", "strokeWidth": 1.5},
     "encoding": {
       "x": {"field": "m", "type": "temporal",
             "axis": {"title": null, "values": [{"year":2018,"month":3,"date":1,"utc":true},{"year":2018,"month":9,"date":1,"utc":true},{"year":2019,"month":3,"date":1,"utc":true},{"year":2019,"month":9,"date":1,"utc":true},{"year":2020,"month":3,"date":1,"utc":true},{"year":2020,"month":9,"date":1,"utc":true},{"year":2021,"month":3,"date":1,"utc":true},{"year":2021,"month":9,"date":1,"utc":true},{"year":2022,"month":3,"date":1,"utc":true},{"year":2022,"month":9,"date":1,"utc":true},{"year":2023,"month":3,"date":1,"utc":true},{"year":2023,"month":9,"date":1,"utc":true},{"year":2024,"month":3,"date":1,"utc":true}]}},
       "y": {"field": "c", "type": "quantitative", "axis": {"title": null, "values": [0, 2000, 4000, 6000, 8000], "format": "d"}}}},
    {"transform": [{"aggregate": [{"op": "count", "as": "n"}], "groupby": ["d"]}],
     "layer": [
       {"mark": {"type": "rule", "color": "#11f011", "strokeDash": [7, 4], "strokeWidth": 1.8},
        "encoding": {"x": {"datum": {"year": 2021, "month": 7, "date": 1, "utc": true}, "type": "temporal",
             "axis": {"title": null, "values": [{"year":2018,"month":3,"date":1,"utc":true},{"year":2018,"month":9,"date":1,"utc":true},{"year":2019,"month":3,"date":1,"utc":true},{"year":2019,"month":9,"date":1,"utc":true},{"year":2020,"month":3,"date":1,"utc":true},{"year":2020,"month":9,"date":1,"utc":true},{"year":2021,"month":3,"date":1,"utc":true},{"year":2021,"month":9,"date":1,"utc":true},{"year":2022,"month":3,"date":1,"utc":true},{"year":2022,"month":9,"date":1,"utc":true},{"year":2023,"month":3,"date":1,"utc":true},{"year":2023,"month":9,"date":1,"utc":true},{"year":2024,"month":3,"date":1,"utc":true}]}}}},
       {"mark": {"type": "rect", "fill": "white", "stroke": "black", "strokeWidth": 1.3},
        "encoding": {"y": {"datum": 8223, "type": "quantitative", "axis": {"title": null, "values": [0, 2000, 4000, 6000, 8000], "format": "d"}}, "y2": {"datum": 10582}}},
       {"mark": {"type": "text", "fontSize": 18, "color": "#1a1a1a", "font": "Liberation Sans"},
        "encoding": {"y": {"datum": 9402, "type": "quantitative", "axis": {"title": null, "values": [0, 2000, 4000, 6000, 8000], "format": "d"}}, "text": {"field": "d"}}}
     ]}
  ]
}
}
]
}
